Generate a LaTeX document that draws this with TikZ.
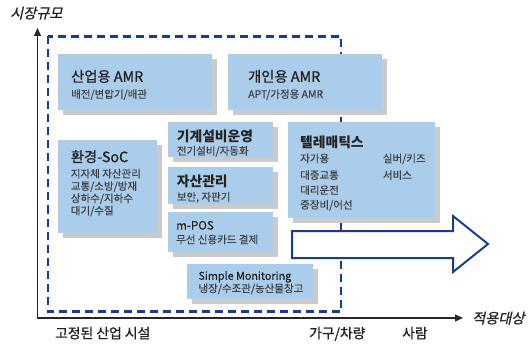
\documentclass[tikz,border=0pt]{standalone}
\usepackage{fontspec}
\setmainfont{Noto Sans CJK KR}
\newfontfamily\cjkit[FakeSlant=0.22,FakeBold=0.8]{Noto Sans CJK KR}
\newfontfamily\cjkmed[FakeBold=1.0]{Noto Sans CJK KR}
\newfontfamily\cjksub[FakeBold=0.4]{Noto Sans CJK KR}
\usetikzlibrary{arrows.meta,shadows}
\definecolor{boxblue}{RGB}{170,205,235}
\definecolor{shadowgray}{RGB}{202,202,202}
\definecolor{dashblue}{RGB}{22,62,140}
\definecolor{titlec}{RGB}{35,35,35}
\definecolor{subc}{RGB}{65,65,65}
\tikzset{
 panel/.style={fill=boxblue, draw=none, inner sep=0pt, outer sep=0pt, anchor=north west,
   drop shadow={shadow xshift=5pt, shadow yshift=-5pt, fill=shadowgray, opacity=1}},
 ttl/.style={anchor=base west, inner sep=0pt, text=titlec, font=\fontsize{14.3}{14.3}\selectfont\cjkmed},
 ttlb/.style={ttl, font=\fontsize{13.8}{13.8}\selectfont\bfseries},
 ttls/.style={ttl, font=\fontsize{10.8}{10.8}\selectfont\cjksub},
 sub/.style={anchor=base west, inner sep=0pt, text=subc, font=\fontsize{10.5}{10.5}\selectfont\cjksub},
 axlbl/.style={anchor=base west, inner sep=0pt, text=titlec, font=\fontsize{13.8}{13.8}\selectfont\cjkmed},
 axit/.style={anchor=base west, inner sep=0pt, text=titlec, font=\fontsize{14.2}{14.2}\selectfont\cjkit},
 axis/.style={line width=1.2pt, draw=black!85, {Triangle[length=8pt,width=7pt]}-{Triangle[length=8pt,width=7pt]}},
}
\begin{document}
\begin{tikzpicture}[x=1pt,y=-1pt]
\useasboundingbox (0,0) rectangle (529,347);

% axes
\coordinate (ytip) at (37.5,28);
\coordinate (origin) at (37.5,318);
\coordinate (xtip) at (463,318);
\draw[axis] (ytip) -- (origin) -- (xtip);
\node[axit] (ylab) at (10,18.4) {시장규모};
\node[axit] (xlab) at (472,323.4) {적용대상};

% dashed region
\coordinate (dtl) at (48,36.5);
\coordinate (dbr) at (341,311.5);
\draw[dashblue, line width=2.3pt, dash pattern=on 8pt off 5pt] (dtl) rectangle (dbr);

% panels
\node[panel, minimum width=154pt, minimum height=56pt] (ind) at (58,54) {};
\node[panel, minimum width=154pt, minimum height=56pt] (per) at (228,54) {};
\node[panel, minimum width=99pt, minimum height=93pt] (env) at (58,140) {};
\node[panel, minimum width=105pt, minimum height=35pt] (mach) at (168,122) {};
\node[panel, minimum width=105pt, minimum height=37pt] (asset) at (168,167) {};
\node[panel, minimum width=105pt, minimum height=40pt] (mpos) at (168,212) {};
\node[panel, minimum width=147pt, minimum height=96pt] (tele) at (288,122) {};
\node[panel, minimum width=126pt, minimum height=35pt] (simple) at (187,264) {};

% big arrow
\coordinate (a1) at (292,231);
\coordinate (a2) at (453,231);
\coordinate (a3) at (453,216);
\coordinate (a4) at (488,244);
\coordinate (a5) at (453,272);
\coordinate (a6) at (453,258);
\coordinate (a7) at (292,258);
\draw[dashblue, line width=2pt, fill=white, line join=miter] (a1) -- (a2) -- (a3) -- (a4) -- (a5) -- (a6) -- (a7) -- cycle;

% texts
\node[ttl] (indT) at (71,81.8) {산업용 AMR};
\node[sub] (indS) at (71,98) {배전/변압기/배관};
\node[ttl] (perT) at (248,81.8) {개인용 AMR};
\node[sub] (perS) at (248,98) {APT/가정용 AMR};

\node[ttl] (envT) at (70.7,162.1) {환경-SoC};
\node[sub] (envS1) at (70.7,177.5) {지자체 자산관리};
\node[sub] (envS2) at (70.7,190) {교통/소방/방재};
\node[sub] (envS3) at (70.7,202.2) {상하수/지하수};
\node[sub] (envS4) at (70.7,214.5) {대기/수질};

\node[ttlb] (machT) at (176.7,142) {기계설비운영};
\node[sub] (machS) at (176.7,154.7) {전기설비/자동화};
\node[ttlb] (assetT) at (176.7,186.1) {자산관리};
\node[sub] (assetS) at (176.7,200.7) {보안, 자판기};
\node[ttls, font=\fontsize{11.6}{11.6}\selectfont\cjksub] (mposT) at (176,229.6) {m-POS};
\node[sub] (mposS) at (176,243.4) {무선 신용카드 결제};

\node[ttlb] (teleT) at (300,147.1) {텔레매틱스};
\node[sub] (teleS1) at (300,162.3) {자가용};
\node[sub] (teleS2) at (300,179) {대중교통};
\node[sub] (teleS3) at (300,194) {대리운전};
\node[sub] (teleS4) at (300,208.7) {중장비/어선};
\node[sub] (teleS5) at (382.7,162.3) {실버/키즈};
\node[sub] (teleS6) at (382.7,179) {서비스};

\node[ttls] (simpleT) at (198.3,279.8) {Simple Monitoring};
\node[sub] (simpleS) at (198.3,292.3) {냉장/수조관/농산물창고};

% x-axis categories
\node[axlbl] (c1) at (55,338.3) {고정된 산업 시설};
\node[axlbl] (c2) at (309,338.3) {가구/차량};
\node[axlbl] (c3) at (402,338.3) {사람};
\end{tikzpicture}
\end{document}
